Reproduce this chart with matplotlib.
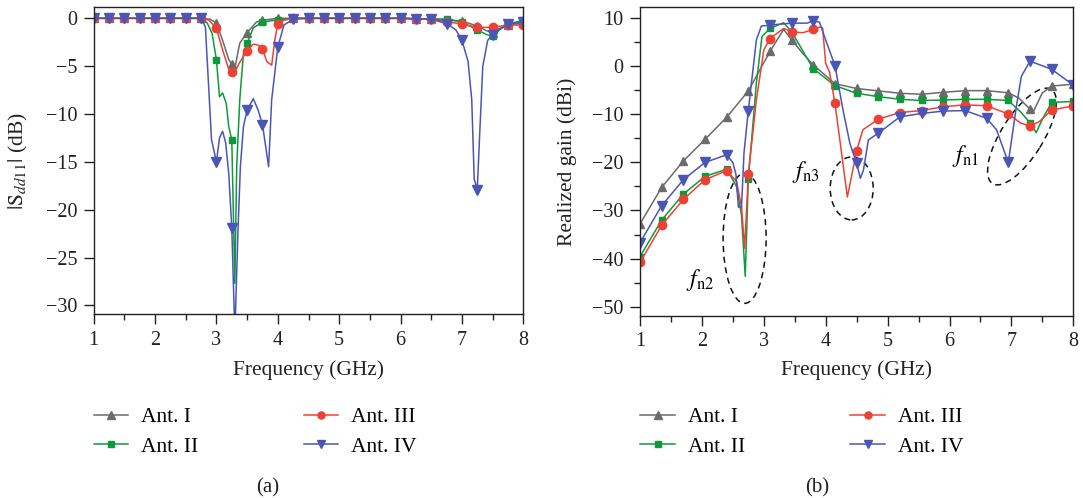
import numpy as np
import matplotlib
matplotlib.use("Agg")
import matplotlib.pyplot as plt
from matplotlib.lines import Line2D
from matplotlib.patches import Ellipse
from matplotlib.transforms import Affine2D, ScaledTranslation
from matplotlib.ticker import MultipleLocator

plt.rcParams["font.family"] = ["Liberation Serif", "DejaVu Serif"]
plt.rcParams["mathtext.fontset"] = "stix"

# ---- (a) |Sdd11| data, markers every 0.25 GHz ----
flat = [1.0, 1.25, 1.5, 1.75, 2.0, 2.25, 2.5, 2.75]
s_f1 = flat + [2.9, 3.0, 3.1, 3.2, 3.25, 3.3, 3.38, 3.5, 3.65, 3.75, 4.0, 4.25, 4.5, 4.75, 5.0,
               5.25, 5.5, 5.75, 6.0, 6.25, 6.5, 6.75, 7.0, 7.25, 7.4, 7.5, 7.6, 7.75, 8.0]
s_v1 = [0] * 8 + [-0.1, -0.5, -2.3, -4.3, -4.8, -5.2, -2.6, -1.5, -0.4, -0.2, 0.0, 0, 0, 0, 0,
                  0, 0, 0, 0, -0.05, -0.1, -0.15, -0.3, -0.8, -1.3, -1.5, -1.1, -0.7, -0.5]

s_f2 = flat + [2.85, 2.93, 3.0, 3.05, 3.1, 3.16, 3.2, 3.25, 3.3, 3.33, 3.38, 3.44, 3.5, 3.6, 3.75,
               4.0, 4.25, 4.5, 4.75, 5.0, 5.25, 5.5, 5.75, 6.0, 6.25, 6.5, 6.75, 7.0, 7.25, 7.4,
               7.5, 7.6, 7.75, 8.0]
s_v2 = [0] * 8 + [-0.5, -1.6, -4.35, -8.2, -7.8, -8.9, -11.3, -12.7, -27.7, -15.5, -8.5, -3.7, -2.6,
                  -1.0, -0.4, -0.15, 0, 0, 0, 0, 0, 0, 0, 0, -0.05, -0.05, -0.1, -0.4, -1.2, -1.7,
                  -1.85, -1.2, -0.6, -0.2]

s_f3 = flat + [2.88, 3.0, 3.1, 3.2, 3.25, 3.3, 3.37, 3.5, 3.6, 3.68, 3.75, 3.82, 3.9, 3.95, 4.0,
               4.1, 4.25, 4.5, 4.75, 5.0, 5.25, 5.5, 5.75, 6.0, 6.25, 6.5, 6.75, 7.0, 7.25, 7.5,
               7.75, 8.0]
s_v3 = [0] * 8 + [-0.2, -1.05, -3.3, -5.3, -5.6, -5.6, -4.7, -3.4, -2.7, -2.8, -3.2, -4.5, -4.9,
                  -2.3, -0.6, -0.2, 0, 0, 0, 0, 0, 0, 0, 0, -0.05, -0.1, -0.35, -0.6, -0.95, -0.95,
                  -0.7, -0.7]

s_f4 = flat + [2.82, 2.87, 2.92, 3.0, 3.05, 3.1, 3.15, 3.2, 3.25, 3.3, 3.35, 3.39, 3.44, 3.5, 3.6,
               3.68, 3.75, 3.85, 3.9, 4.0, 4.1, 4.25, 4.5, 4.75, 5.0, 5.25, 5.5, 5.75, 6.0, 6.25,
               6.5, 6.75, 6.9, 7.0, 7.1, 7.16, 7.2, 7.25, 7.29, 7.34, 7.42, 7.5, 7.75, 8.0]
s_v4 = [0] * 8 + [-0.9, -6.8, -12.7, -15.0, -12.5, -11.8, -13.0, -16.2, -21.9, -33.0, -22.4, -15.5,
                  -11.3, -9.6, -8.4, -9.6, -11.1, -15.5, -8.5, -3.0, -0.7, -0.1, 0, 0, 0, 0, 0, 0,
                  0, -0.05, -0.1, -0.55, -1.2, -2.3, -4.5, -8.5, -16.8, -17.9, -12.0, -5.0, -2.3,
                  -1.7, -0.6, -0.4]

# ---- (b) realized gain data, markers every 0.35 GHz ----
g_f1 = [1.0, 1.35, 1.7, 2.05, 2.4, 2.75, 3.1, 3.32, 3.45, 3.63, 3.8, 4.15, 4.5, 4.85, 5.2, 5.55,
        5.9, 6.25, 6.6, 6.95, 7.12, 7.3, 7.36, 7.5, 7.65, 8.0]
g_v1 = [-32.8, -25.2, -19.7, -15.2, -10.6, -5.1, 3.1, 7.7, 5.5, 2.7, 0.3, -3.6, -4.6, -5.1, -5.6,
        -5.8, -5.4, -5.05, -5.05, -5.5, -6.6, -8.9, -9.3, -5.5, -4.1, -3.7]

g_f2 = [1.0, 1.35, 1.7, 2.05, 2.4, 2.56, 2.64, 2.7, 2.75, 2.88, 2.97, 3.1, 3.32, 3.45, 3.55, 3.65,
        3.8, 4.0, 4.15, 4.5, 4.85, 5.2, 5.55, 5.9, 6.25, 6.6, 6.95, 7.15, 7.3, 7.4, 7.5, 7.65, 8.0]
g_v2 = [-39.6, -32.0, -26.6, -22.9, -21.4, -25.0, -31.0, -43.7, -23.4, -3.5, 6.2, 7.9, 9.1, 7.2,
        5.0, 2.8, -0.5, -2.5, -4.0, -5.6, -6.3, -6.85, -7.1, -7.0, -6.85, -6.85, -7.1, -9.5, -11.7,
        -13.8, -11.0, -7.5, -7.3]

g_f3 = [1.0, 1.35, 1.7, 2.05, 2.4, 2.56, 2.64, 2.69, 2.75, 2.88, 3.0, 3.1, 3.32, 3.45, 3.63, 3.8,
        3.91, 3.95, 4.0, 4.06, 4.15, 4.35, 4.5, 4.6, 4.85, 5.2, 5.55, 5.9, 6.25, 6.6, 6.95, 7.15,
        7.3, 7.45, 7.65, 8.0]
g_v3 = [-40.8, -33.1, -27.7, -23.6, -21.7, -24.0, -29.2, -37.9, -22.4, -7.0, 3.4, 5.8, 7.9, 7.2,
        7.0, 7.7, 8.2, 8.0, 0.6, -1.1, -7.7, -27.2, -17.6, -13.2, -11.0, -9.6, -9.2, -8.4, -8.0,
        -8.2, -9.9, -11.8, -12.4, -11.5, -9.1, -8.2]

g_f4 = [1.0, 1.35, 1.7, 2.05, 2.4, 2.5, 2.55, 2.59, 2.64, 2.68, 2.75, 2.88, 2.96, 3.1, 3.45, 3.7,
        3.8, 3.9, 4.0, 4.15, 4.28, 4.39, 4.5, 4.56, 4.61, 4.69, 4.85, 5.2, 5.55, 5.9, 6.25, 6.6,
        6.76, 6.95, 7.08, 7.16, 7.3, 7.65, 8.0]
g_v4 = [-36.7, -29.0, -23.6, -20.0, -18.4, -20.0, -22.5, -29.3, -29.3, -18.0, -9.2, 5.5, 8.4, 8.6,
        9.0, 9.0, 9.5, 9.2, 5.5, 0.15, -9.1, -16.0, -20.2, -23.3, -21.6, -15.3, -13.9, -10.5,
        -9.8, -9.3, -9.2, -10.8, -13.2, -20.0, -8.4, -2.1, 1.1, -0.6, -3.9]

labels = ["Ant. I", "Ant. II", "Ant. III", "Ant. IV"]
colors = ["#6b6b6b", "#0e9a3c", "#ec4236", "#4a56b6"]
markers = ["^", "s", "o", "v"]
msizes = [6, 5, 6, 6.5]

fig = plt.figure(figsize=(10.83, 4.98), dpi=100)
W, H = 1083, 498
ax1 = fig.add_axes([93.7 / W, 1 - 314 / H, (523.3 - 93.7) / W, (314 - 7.3) / H])
ax2 = fig.add_axes([640 / W, 1 - 315.7 / H, (1073.3 - 640) / W, (315.7 - 7.3) / H])


def marker_idx(f, start, step):
    return [i for i, x in enumerate(f) if abs((x - start) / step - round((x - start) / step)) < 1e-6]


for f, v, c, m, ms in zip([s_f1, s_f2, s_f3, s_f4], [s_v1, s_v2, s_v3, s_v4], colors, markers, msizes):
    ax1.plot(f, v, color=c, lw=1.1, marker=m, ms=ms, markevery=marker_idx(f, 1.0, 0.25))

for f, v, c, m, ms in zip([g_f1, g_f2, g_f3, g_f4], [g_v1, g_v2, g_v3, g_v4], colors, markers, msizes):
    ax2.plot(f, v, color=c, lw=1.1, marker=m, ms=ms, markevery=marker_idx(f, 1.0, 0.35))

ax1.set_xlim(1, 8)
ax1.set_ylim(-30.9, 1.15)
ax1.yaxis.set_major_locator(MultipleLocator(5))
ax2.set_xlim(1, 8)
ax2.set_ylim(-51.9, 12.3)
ax2.yaxis.set_major_locator(MultipleLocator(10))
ax2.yaxis.set_minor_locator(MultipleLocator(5))

for ax in (ax1, ax2):
    ax.xaxis.set_major_locator(MultipleLocator(1))
    ax.xaxis.set_minor_locator(MultipleLocator(0.5))
    ax.tick_params(which="both", direction="out", width=1, colors="#222222", labelsize=14.5,
                   labelcolor="#222222", top=False, right=False)
    ax.tick_params(which="major", length=7, pad=5)
    ax.tick_params(which="minor", length=4)
    for sp in ax.spines.values():
        sp.set_color("#222222")
        sp.set_linewidth(1.0)
    ax.set_xlabel("Frequency (GHz)", fontsize=15.5, color="#222222")

ax1.set_ylabel(r"$|\mathrm{S}_{dd11}|$ (dB)", fontsize=15.5, color="#222222")
ax2.set_ylabel("Realized gain (dBi)", fontsize=15.5, color="#222222")
ax1.yaxis.set_label_coords(-0.148, 0.5)
ax2.yaxis.set_label_coords(-0.145, 0.5)
ax1.xaxis.set_label_coords(0.5, -0.15)
ax2.xaxis.set_label_coords(0.5, -0.145)

# dashed ellipses (sizes in pixels) around the notches
ell = [(2.69, -35.8, 43, 130, 0), (4.42, -25.4, 43, 63, 0), (7.17, -14.6, 111, 42, 58)]
for cx, cy, w, h, a in ell:
    tr = Affine2D() + ScaledTranslation(cx, cy, ax2.transData)
    ax2.add_patch(Ellipse((0, 0), w, h, angle=a, transform=tr, fill=False, ec="#111111",
                          lw=1.1, ls=(0, (4, 3)), clip_on=False))

ax2.text(1.97, -44.4, r"$f_{\mathrm{n2}}$", fontsize=17, ha="center", va="center")
ax2.text(3.67, -22.0, r"$f_{\mathrm{n3}}$", fontsize=17, ha="center", va="center")
ax2.text(6.25, -18.6, r"$f_{\mathrm{n1}}$", fontsize=17, ha="center", va="center")

handles = [Line2D([], [], color=c, lw=1.1, marker=m, ms=ms * 0.85)
           for c, m, ms in zip(colors, markers, msizes)]
for ax, x0 in ((ax1, 93.6), (ax2, 640.4)):
    ax.legend(handles, labels, ncol=2, frameon=False, fontsize=15.5, loc="upper left",
              bbox_to_anchor=(x0 / W, 1 - 407 / H), bbox_transform=fig.transFigure,
              borderpad=0, borderaxespad=0, handlelength=1.6, handletextpad=0.6,
              columnspacing=4.9, labelspacing=0.45)

fig.text(268 / W, 1 - 487.6 / H, "(a)", fontsize=15, ha="center", va="center", color="#222222")
fig.text(817 / W, 1 - 488 / H, "(b)", fontsize=15, ha="center", va="center", color="#222222")

fig.savefig("out.png", dpi=100)
